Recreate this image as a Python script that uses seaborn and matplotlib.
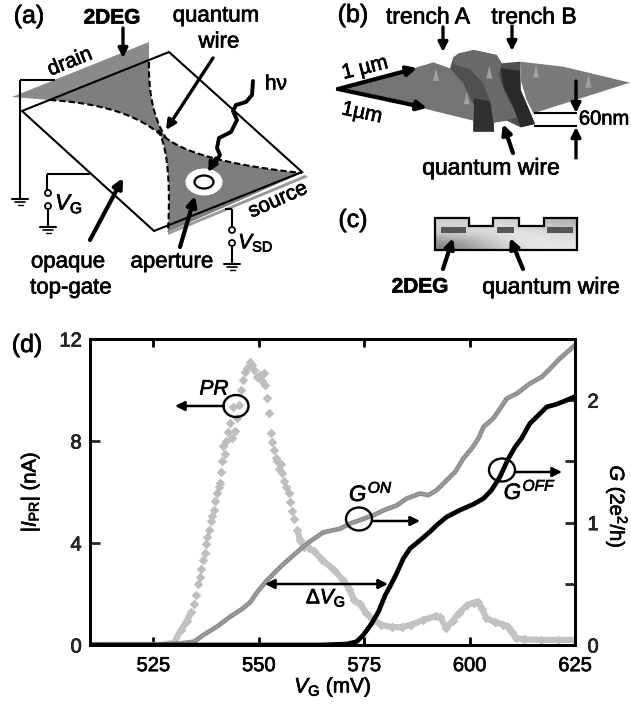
import numpy as np
import pandas as pd
import matplotlib
matplotlib.use("Agg")
import matplotlib.pyplot as plt
import matplotlib.patheffects as pe
import seaborn as sns
from matplotlib.patches import Ellipse, Polygon

# values
pr_x = [510, 520, 526, 528, 530, 531.6, 533, 534, 534.7, 535.2, 535.5, 536, 536.4, 536.8, 537.2, 537.5, 537.8, 538.1,
        538.6, 539, 539.3, 539.7, 540, 540.5, 540.9, 541.1, 541.3, 541.6, 541.9, 542.3, 542.8, 543.2, 543.6, 544, 544.4,
        544.9, 545.4, 545.9, 546.3, 546.8, 547.3, 547.9, 548.5, 549, 549.6, 550.2, 550.7, 551.2, 551.4, 552, 552.4, 552.9,
        553.2, 553.6, 554, 554.4, 554.8, 555.2, 555.6, 556, 556.5, 557.1, 557.5, 557.9, 558.4, 559.2, 559.8, 560.7,
        562, 563, 565, 567.8, 570, 571.5, 572.6, 574, 575.5, 577, 579, 581.5, 584, 586, 589, 592, 593, 594.5,
        596, 597.5, 599.5, 601, 602, 603, 604, 606, 608, 609, 610, 611, 613, 617, 621, 625]
pr_y = [0, 0, 0, 0.03, 0.1, 0.6, 0.95, 1.3, 1.6, 1.95, 2.4, 2.65, 3.0, 3.35, 3.6, 3.95, 4.25, 4.5,
        4.85, 5.05, 5.3, 5.65, 5.95, 6.2, 6.35, 6.8, 7.2, 7.8, 7.5, 8.0, 8.35, 8.7, 8.1, 9.35, 8.4,
        8.9, 9.4, 10.0, 10.4, 10.7, 10.85, 11.1, 11.0, 10.8, 10.5, 10.6, 10.35, 10.65, 10.2, 9.7, 9.1, 8.3,
        7.95, 7.65, 7.35, 7.2, 6.9, 7.1, 6.75, 6.45, 6.2, 5.95, 5.6, 5.25, 4.95, 4.5, 4.1, 3.85,
        3.8, 3.7, 3.35, 2.95, 2.55, 2.2, 1.75, 1.6, 1.25, 1.0, 0.8, 0.7, 0.7, 0.78, 0.98, 1.14, 1.1, 0.67,
        0.95, 1.25, 1.57, 1.66, 1.7, 1.4, 1.05, 0.9, 0.8, 0.72, 0.5, 0.27, 0.22, 0.2, 0.2, 0.2]
gon_x = [510, 525, 531.4, 534.7, 536.8, 540.1, 543.2, 546.3, 548, 549.6, 552, 555.2, 558.3, 561.5, 565.3, 569.3,
         571.7, 574, 577.2, 579.6, 582.7, 585.1, 588.3, 590.2, 592.2, 594.6, 596.6, 598.5, 600.5, 602.1, 603.3,
         605.6, 607.2, 608.8, 611.2, 614.3, 617.1, 619.1, 621.4, 625]
gon_y = [0, 0, 0.013, 0.027, 0.08, 0.15, 0.23, 0.30, 0.35, 0.43, 0.53, 0.64, 0.735, 0.83, 0.92, 0.95,
         0.993, 1.02, 1.06, 1.10, 1.14, 1.197, 1.238, 1.224, 1.265, 1.347, 1.415, 1.523, 1.605, 1.687, 1.782,
         1.85, 1.93, 2.013, 2.054, 2.136, 2.19, 2.258, 2.34, 2.45]
goff_x = [510, 565, 570.9, 573.2, 574.8, 576.8, 578.4, 580, 581.1, 582.7, 584.3, 585.9, 588.3, 590.6, 592.2, 594.6,
          597.7, 600.9, 603.3, 605.2, 607.2, 609.2, 610.8, 612.3, 614.3, 616.3, 618.3, 620.6, 622.6, 625]
goff_y = [0, 0, 0.008, 0.027, 0.081, 0.177, 0.272, 0.408, 0.476, 0.585, 0.707, 0.789, 0.857, 0.925, 0.979, 1.047,
          1.102, 1.15, 1.197, 1.265, 1.374, 1.523, 1.618, 1.687, 1.809, 1.877, 1.945, 1.967, 1.994, 2.03]
x_ticks = [525, 550, 575, 600, 625]
y_ticks = [0, 4, 8, 12]
g_ticks = [0, 0.5, 1, 1.5, 2]
g_labels = ["0", "", "1", "", "2"]

sns.set_theme(style="ticks")
plt.rcParams["font.family"] = ["Liberation Sans", "DejaVu Sans"]
plt.rcParams["mathtext.fontset"] = "custom"
plt.rcParams["mathtext.rm"] = "Liberation Sans"
plt.rcParams["mathtext.it"] = "Liberation Sans:italic"
plt.rcParams["mathtext.default"] = "regular"

fig = plt.figure(figsize=(6.31, 7.04), dpi=100)
W, H = 631.0, 704.0
ax = fig.add_axes([90 / W, (H - 645) / H, 485 / W, 306 / H])
ax2 = ax.twinx()

pr = pd.DataFrame({"x": pr_x, "y": pr_y})
low = pr[pr.x <= 534]
high = pr[pr.x >= 559]
sns.lineplot(data=low, x="x", y="y", ax=ax, color="#c2c2c2", lw=4.5, legend=False)
sns.lineplot(data=high, x="x", y="y", ax=ax, color="#c2c2c2", lw=4.5, legend=False)
sns.scatterplot(data=pr[pr.x > 530], x="x", y="y", ax=ax, color="#bdbdbd", marker="D", s=24, linewidth=0, legend=False)
sns.lineplot(x=gon_x, y=gon_y, ax=ax2, color="#8e8e8e", lw=3.4, legend=False)
sns.lineplot(x=gon_x, y=gon_y, ax=ax2, color="#b8b8b8", lw=0.8, ls=(0, (1, 1.5)), legend=False)
sns.lineplot(x=goff_x, y=goff_y, ax=ax2, color="black", lw=3.4, legend=False)

ax.set_xlim(510, 625)
ax.set_ylim(0, 12)
ax2.set_ylim(0, 2.5)
ax.set_xticks(x_ticks)
ax.set_yticks(y_ticks)
ax2.set_yticks(g_ticks)
ax2.set_yticklabels(g_labels)
ax.tick_params(axis="x", direction="in", top=True, length=6, width=2, labelsize=14.5, pad=8, colors="black")
ax.tick_params(axis="y", direction="in", length=7, width=2, labelsize=14.5, pad=6)
ax2.tick_params(axis="y", direction="in", length=7, width=2, labelsize=14.5, pad=9)
ax.set_xlabel("")
ax.set_ylabel("")
ax2.set_ylabel("")
heavy = [pe.withStroke(linewidth=0.5, foreground="black")]
for a in (ax, ax2):
    for s in a.spines.values():
        s.set_linewidth(2)
        s.set_color("black")
    for lab in a.get_xticklabels() + a.get_yticklabels():
        lab.set_path_effects(heavy)

# overlay in picture pixels for the drawings and annotations
ov = fig.add_axes([0, 0, 1, 1], zorder=5)
ov.patch.set_alpha(0)
ov.axis("off")
INK = "black"


def arrow(x0, y0, x1, y1, lw=2.4, style="-|>", scale=14):
    ov.annotate("", xy=(x1, y1), xytext=(x0, y0),
                arrowprops=dict(arrowstyle=style, color=INK, lw=lw, mutation_scale=scale, shrinkA=0, shrinkB=0))


def txt(x, y, s, size=16, **kw):
    kw.setdefault("ha", "center")
    kw.setdefault("va", "center")
    t = ov.text(x, y, s, fontsize=size, color="black", **kw)
    t.set_path_effects(heavy)


def zpts(pts, ox=0):
    return [(ox + px / 3, py / 3) for px, py in pts]


def qcurve(p0, c, p1, n=30):
    t = np.linspace(0, 1, n)[:, None]
    p0, c, p1 = map(np.array, (p0, c, p1))
    return (1 - t) ** 2 * p0 + 2 * t * (1 - t) * c + t ** 2 * p1


def ground(x, y):
    ov.plot([x - 8, x + 8], [y, y], color=INK, lw=1.5)
    ov.plot([x - 5, x + 5], [y + 3, y + 3], color=INK, lw=1.2)
    ov.plot([x - 2.5, x + 2.5], [y + 6, y + 6], color=INK, lw=1)


def line(xs, ys, lw=1.5):
    ov.plot(xs, ys, color=INK, lw=lw, solid_capstyle="butt")


# panel (a)
GREY = "#7e7e7e"
ov.add_patch(Polygon([(12, 97), (149, 42), (149, 62), (50, 100)], closed=True, fc="#8a8a8a", ec="none"))
upper_l = qcurve((50, 100), (130, 105), (164, 138))
upper_r = qcurve((149, 62), (148, 110), (166, 138))
gate = np.vstack([[(50, 100), (149, 60)], upper_r, upper_l[::-1]])
ov.add_patch(Polygon(gate, closed=True, fc=GREY, ec="none"))
wedge_top = qcurve((158, 130), (180, 160), (302, 173))
wedge_left = qcurve((158, 130), (172, 155), (168, 232))
wedge = np.vstack([wedge_top, [(302, 173), (168, 232)], wedge_left[::-1]])
ov.add_patch(Polygon(wedge, closed=True, fc=GREY, ec="none"))
ov.add_patch(Polygon([(168, 232), (305, 175), (308, 177), (168, 235)], closed=True, fc="#9a9a9a", ec="none"))
for c in (upper_l, upper_r, wedge_top, wedge_left):
    ov.plot(c[:, 0], c[:, 1], color=INK, lw=1.5, ls=(0, (3, 1.5)))
ov.add_patch(Polygon([(22, 111), (169, 52), (302, 172), (154, 231)], closed=True, fc="none", ec=INK, lw=1.5))
ov.add_patch(Ellipse((204, 182), 37, 27, fc="white", ec="none"))
ov.add_patch(Ellipse((204, 182), 19, 13, fc="white", ec=INK, lw=1.6))
hv_x = [253, 252, 246, 236, 233, 237, 231, 219, 217, 220, 215, 211]
hv_y = [81, 95, 102, 105, 111, 120, 132, 138, 148, 155, 163, 168]
ov.plot(hv_x, hv_y, color=INK, lw=2.8)
arrow(216, 158, 208, 172)
arrow(123, 28, 123, 58)
arrow(213, 58, 166, 130)
arrow(90, 240, 123, 178, lw=3)
arrow(180, 247, 195, 196, lw=3)
line([20, 20], [80, 198]); line([20, 55], [80, 80])
ground(20, 199)
line([47, 90], [174, 174]); line([47, 47], [174, 190])
line([48, 48], [210, 226]); ground(48, 227)
line([225, 232], [209, 209]); line([232, 232], [209, 227])
line([232, 232], [247, 263]); ground(232, 264)
for cx, cy in [(48, 193), (48, 206), (232, 230), (232, 243)]:
    ov.add_patch(Ellipse((cx, cy), 6, 6, fc="white", ec=INK, lw=1.3))
txt(29, 16, "(a)", 18)
txt(112, 18, "2DEG", 15, fontweight="bold")
txt(216, 16, "quantum", 16)
txt(219, 42, "wire", 16)
txt(70, 62, "drain", 15, rotation=22)
txt(276, 84, "h\u03bd", 15)
txt(69, 204, "$\\mathit{V}_{G}$", 16)
txt(256, 243, "$\\mathit{V}_{SD}$", 15)
txt(278, 200, "source", 15, rotation=24)
txt(68, 262, "opaque", 16)
txt(71, 288, "top-gate", 16)
txt(172, 262, "aperture", 16)

# panel (b)
ox = 330
backing = [(360, 205), (370, 172), (430, 150), (500, 165), (515, 190), (570, 185), (572, 270), (615, 372), (572, 382),
           (530, 362), (492, 368), (492, 395), (430, 395), (430, 315)]
ov.add_patch(Polygon(zpts(backing, ox), closed=True, fc="#505050", ec="none"))
left_lobe = [(20, 267), (250, 205), (310, 187), (360, 205), (400, 250), (430, 315), (430, 362), (280, 325)]
ov.add_patch(Polygon(zpts(left_lobe, ox), closed=True, fc="#747474", ec="none"))
tr_a = [(432, 295), (485, 305), (492, 395), (430, 395)]
ov.add_patch(Polygon(zpts(tr_a, ox), closed=True, fc="#303030", ec="none"))
ridge = [(370, 172), (385, 160), (430, 150), (500, 165), (515, 190), (505, 225), (530, 290), (565, 352), (490, 368),
         (482, 310), (460, 250), (420, 208), (370, 192)]
ov.add_patch(Polygon(zpts(ridge, ox), closed=True, fc="#6a6a6a", ec="none"))
tr_b = [(512, 205), (570, 212), (572, 270), (598, 330), (615, 372), (572, 382), (550, 320), (520, 260)]
ov.add_patch(Polygon(zpts(tr_b, ox), closed=True, fc="#2a2a2a", ec="none"))
right_lobe = [(570, 185), (700, 200), (900, 248), (610, 340), (590, 300), (572, 240)]
ov.add_patch(Polygon(zpts(right_lobe, ox), closed=True, fc="#7a7a7a", ec="none"))
for pk in [(318, 225), (478, 218), (618, 215), (775, 245), (410, 295)]:
    cx, cy = zpts([pk], ox)[0]
    ov.add_patch(Polygon([(cx - 3, cy + 6), (cx, cy - 7), (cx + 3, cy + 6)], closed=True, fc="#a0a0a0", ec="none"))
arrow(338, 89, 417, 68, lw=3)
arrow(338, 89, 427, 108, lw=3)
arrow(443, 27, 443, 52)
arrow(512, 26, 512, 51)
arrow(513, 153, 503, 124, lw=3)
arrow(576, 81, 576, 113)
arrow(576, 158, 576, 127)
line([534, 577], [113, 113]); line([534, 577], [126, 126])
txt(365, 68, "1 \u00b5m", 15, rotation=14)
txt(362, 113, "1\u00b5m", 15, rotation=-12)
txt(604, 119, "60nm", 14.5)
txt(428, 17, "trench A", 16.5)
txt(534, 17, "trench B", 16.5)
txt(491, 168, "quantum wire", 16.5)
txt(353, 15, "(b)", 18)

# panel (c)
c_outline = [(316, 653), (416, 653), (416, 678), (488, 678), (488, 653), (568, 653), (568, 678), (642, 678), (642, 653),
             (740, 653), (740, 750), (316, 750)]
c_pts = zpts(c_outline, ox)
shade = np.array([[0.82, 0.85, 0.8, 0.68], [0.8, 0.88, 0.92, 0.85], [0.5, 0.72, 0.9, 0.9]])
im = ov.imshow(shade, cmap="gray", vmin=0, vmax=1, extent=(c_pts[0][0], c_pts[9][0], c_pts[10][1], c_pts[0][1]),
               aspect="auto", interpolation="bicubic", zorder=1)
outline = Polygon(c_pts, closed=True, fc="none", ec=INK, lw=1.6, zorder=2)
ov.add_patch(outline)
im.set_clip_path(outline)
for x0, x1 in [(332, 408), (502, 552), (652, 728)]:
    ov.add_patch(Polygon(zpts([(x0, 680), (x1, 680), (x1, 700), (x0, 700)], ox), closed=True, fc="#555555", ec="none", zorder=3))
arrow(443, 269, 453, 238, lw=3)
arrow(523, 269, 510, 238, lw=3)
txt(420, 287, "2DEG", 15, fontweight="bold")
txt(551, 287, "quantum wire", 16.5)
txt(353, 220, "(c)", 18)

# panel (d) annotations
txt(27, 345, "(d)", 18)
txt(30, 492, "$|\\mathit{I}_{PR}|$ (nA)", 14.5, rotation=90)
txt(617, 507, "$\\mathit{G}$ (2e$^{2}$/h)", 14.5, rotation=270)
txt(333, 687, "$\\mathit{V}_{G}$ (mV)", 15)
txt(214, 389, "PR", 15, style="italic")
ov.add_patch(Ellipse((236, 406), 25, 22, fc="none", ec=INK, lw=1.7))
arrow(224, 406, 175, 406, lw=1.8)
txt(371, 493, "$\\mathit{G}^{\\mathit{ON}}$", 16)
ov.add_patch(Ellipse((359, 519), 26, 23, fc="none", ec=INK, lw=1.7))
arrow(372, 521, 420, 521, lw=1.8)
txt(530, 491, "$\\mathit{G}^{\\mathit{OFF}}$", 16)
ov.add_patch(Ellipse((502, 470), 26, 23, fc="none", ec=INK, lw=1.7))
arrow(515, 472, 562, 472, lw=1.8)
arrow(265, 584, 388, 584, lw=1.8, style="<|-|>")
txt(326, 598, "$\\Delta\\mathit{V}_{G}$", 15)

ov.set_xlim(0, W)
ov.set_ylim(H, 0)
fig.savefig("out.png", dpi=100)
